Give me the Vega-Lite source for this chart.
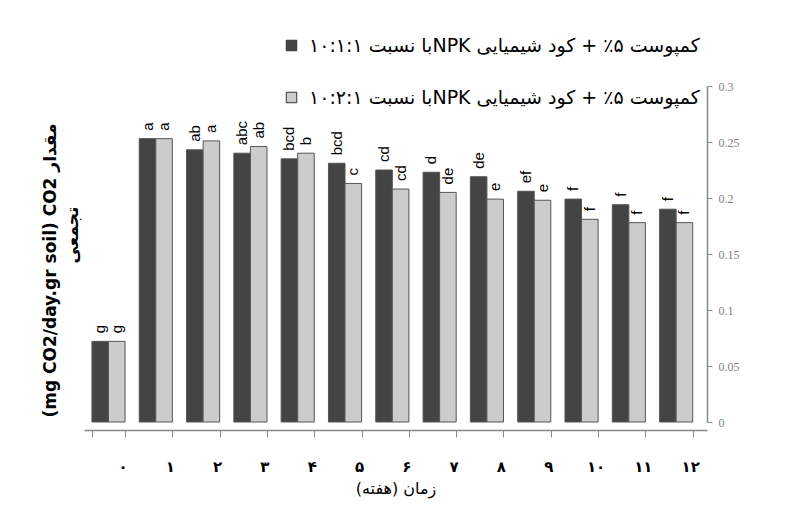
{
  "$schema": "https://vega.github.io/schema/vega-lite/v6.json",
  "width": 623,
  "height": 336,
  "autosize": {"type": "none"},
  "padding": {"left": 84, "top": 86, "right": 92, "bottom": 83},
  "background": "white",
  "config": {
    "view": {"stroke": null},
    "font": "DejaVu Sans"
  },
  "data": {
    "values": [
      {"week": "۰", "series": "کمپوست ۵٪ + کود شیمیایی NPKبا نسبت ۱۰:۱:۱", "co2": 0.072, "letter": "g"},
      {"week": "۰", "series": "کمپوست ۵٪ + کود شیمیایی NPKبا نسبت ۱۰:۲:۱", "co2": 0.072, "letter": "g"},
      {"week": "۱", "series": "کمپوست ۵٪ + کود شیمیایی NPKبا نسبت ۱۰:۱:۱", "co2": 0.253, "letter": "a"},
      {"week": "۱", "series": "کمپوست ۵٪ + کود شیمیایی NPKبا نسبت ۱۰:۲:۱", "co2": 0.253, "letter": "a"},
      {"week": "۲", "series": "کمپوست ۵٪ + کود شیمیایی NPKبا نسبت ۱۰:۱:۱", "co2": 0.243, "letter": "ab"},
      {"week": "۲", "series": "کمپوست ۵٪ + کود شیمیایی NPKبا نسبت ۱۰:۲:۱", "co2": 0.251, "letter": "a"},
      {"week": "۳", "series": "کمپوست ۵٪ + کود شیمیایی NPKبا نسبت ۱۰:۱:۱", "co2": 0.240, "letter": "abc"},
      {"week": "۳", "series": "کمپوست ۵٪ + کود شیمیایی NPKبا نسبت ۱۰:۲:۱", "co2": 0.246, "letter": "ab"},
      {"week": "۴", "series": "کمپوست ۵٪ + کود شیمیایی NPKبا نسبت ۱۰:۱:۱", "co2": 0.235, "letter": "bcd"},
      {"week": "۴", "series": "کمپوست ۵٪ + کود شیمیایی NPKبا نسبت ۱۰:۲:۱", "co2": 0.240, "letter": "b"},
      {"week": "۵", "series": "کمپوست ۵٪ + کود شیمیایی NPKبا نسبت ۱۰:۱:۱", "co2": 0.231, "letter": "bcd"},
      {"week": "۵", "series": "کمپوست ۵٪ + کود شیمیایی NPKبا نسبت ۱۰:۲:۱", "co2": 0.213, "letter": "c"},
      {"week": "۶", "series": "کمپوست ۵٪ + کود شیمیایی NPKبا نسبت ۱۰:۱:۱", "co2": 0.225, "letter": "cd"},
      {"week": "۶", "series": "کمپوست ۵٪ + کود شیمیایی NPKبا نسبت ۱۰:۲:۱", "co2": 0.208, "letter": "cd"},
      {"week": "۷", "series": "کمپوست ۵٪ + کود شیمیایی NPKبا نسبت ۱۰:۱:۱", "co2": 0.223, "letter": "d"},
      {"week": "۷", "series": "کمپوست ۵٪ + کود شیمیایی NPKبا نسبت ۱۰:۲:۱", "co2": 0.205, "letter": "de"},
      {"week": "۸", "series": "کمپوست ۵٪ + کود شیمیایی NPKبا نسبت ۱۰:۱:۱", "co2": 0.219, "letter": "de"},
      {"week": "۸", "series": "کمپوست ۵٪ + کود شیمیایی NPKبا نسبت ۱۰:۲:۱", "co2": 0.199, "letter": "e"},
      {"week": "۹", "series": "کمپوست ۵٪ + کود شیمیایی NPKبا نسبت ۱۰:۱:۱", "co2": 0.206, "letter": "ef"},
      {"week": "۹", "series": "کمپوست ۵٪ + کود شیمیایی NPKبا نسبت ۱۰:۲:۱", "co2": 0.198, "letter": "e"},
      {"week": "۱۰", "series": "کمپوست ۵٪ + کود شیمیایی NPKبا نسبت ۱۰:۱:۱", "co2": 0.199, "letter": "f"},
      {"week": "۱۰", "series": "کمپوست ۵٪ + کود شیمیایی NPKبا نسبت ۱۰:۲:۱", "co2": 0.181, "letter": "f"},
      {"week": "۱۱", "series": "کمپوست ۵٪ + کود شیمیایی NPKبا نسبت ۱۰:۱:۱", "co2": 0.194, "letter": "f"},
      {"week": "۱۱", "series": "کمپوست ۵٪ + کود شیمیایی NPKبا نسبت ۱۰:۲:۱", "co2": 0.178, "letter": "f"},
      {"week": "۱۲", "series": "کمپوست ۵٪ + کود شیمیایی NPKبا نسبت ۱۰:۱:۱", "co2": 0.190, "letter": "f"},
      {"week": "۱۲", "series": "کمپوست ۵٪ + کود شیمیایی NPKبا نسبت ۱۰:۲:۱", "co2": 0.178, "letter": "f"}
    ]
  },
  "encoding": {
    "x": {
      "field": "week",
      "type": "nominal",
      "sort": null,
      "scale": {"paddingInner": 0.3, "paddingOuter": 0.235, "align": 0.357},
      "axis": {
        "title": "زمان (هفته)\u200F",
        "labelAngle": 0,
        "labelFont": "DejaVu Sans",
        "labelFontSize": 15,
        "labelFontWeight": "bold",
        "labelColor": "black",
        "labelPadding": 22,
        "labelOffset": 14,
        "tickOffset": 6,
        "tickBand": "extent",
        "tickSize": 7,
        "tickColor": "#888888",
        "domainColor": "#888888",
        "domainWidth": 1.5,
        "offset": 8,
        "titleFont": "DejaVu Sans",
        "titleFontSize": 16,
        "titleFontWeight": "normal",
        "titleColor": "black",
        "titlePadding": 6
      }
    },
    "y": {
      "field": "co2",
      "type": "quantitative",
      "scale": {"domain": [0, 0.3]},
      "axis": {
        "orient": "right",
        "values": [0, 0.05, 0.1, 0.15, 0.2, 0.25, 0.3],
        "format": "~g",
        "grid": false,
        "domainColor": "#888888",
        "domainWidth": 1.5,
        "tickColor": "#888888",
        "tickSize": 5,
        "labelFont": "Liberation Serif",
        "labelFontSize": 12,
        "labelColor": "#808080",
        "labelPadding": 6,
        "title": ["(mg CO2/day.gr soil) CO2  مقدار", "\u200B\u00A0\u00A0\u00A0\u00A0\u00A0\u00A0\u00A0\u00A0\u00A0\u00A0\u00A0\u00A0تجمعی"],
        "titleAngle": 270,
        "titleX": -665,
        "titleY": 184,
        "titleBaseline": "top",
        "titleAlign": "center",
        "titleFont": "DejaVu Sans",
        "titleFontSize": 17,
        "titleFontWeight": "bold",
        "titleColor": "black",
        "titleLineHeight": 22
      }
    }
  },
  "layer": [
    {
      "mark": {"type": "bar", "stroke": "#555555", "strokeWidth": 1},
      "encoding": {
        "xOffset": {"field": "series", "type": "nominal", "sort": null},
        "color": {
          "field": "series",
          "type": "nominal",
          "sort": null,
          "scale": {
            "domain": ["کمپوست ۵٪ + کود شیمیایی NPKبا نسبت ۱۰:۱:۱", "کمپوست ۵٪ + کود شیمیایی NPKبا نسبت ۱۰:۲:۱"],
            "range": ["#444444", "#cccccc"]
          },
          "legend": {
            "orient": "none",
            "legendX": 198,
            "legendY": -50,
            "title": null,
            "symbolType": "square",
            "symbolSize": 110,
            "symbolStrokeColor": "#333333",
            "symbolStrokeWidth": 1,
            "labelFont": "DejaVu Sans",
            "labelFontSize": 19,
            "labelColor": "black",
            "labelLimit": 0,
            "labelOffset": 8,
            "rowPadding": 32,
            "labelExpr": "'\u202B' + datum.label + '\u202C'"
          }
        }
      }
    },
    {
      "mark": {"type": "text", "angle": 270, "align": "left", "baseline": "middle", "dx": 8, "font": "Liberation Sans", "fontSize": 15, "fill": "#000000"},
      "encoding": {
        "xOffset": {"field": "series", "type": "nominal", "sort": null},
        "text": {"field": "letter", "type": "nominal"}
      }
    }
  ]
}
